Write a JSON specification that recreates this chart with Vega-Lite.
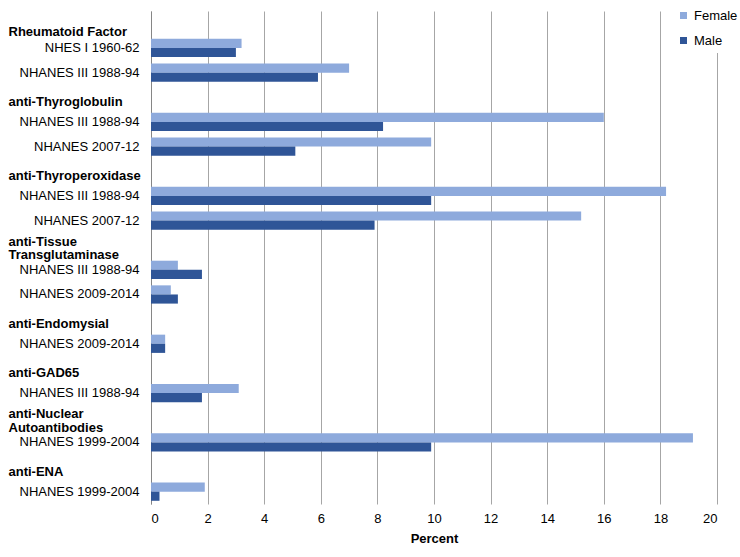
{
  "$schema": "https://vega.github.io/schema/vega-lite/v6.json",
  "width": 566,
  "height": 493,
  "autosize": {"type": "none"},
  "padding": {"left": 151, "top": 11, "right": 23, "bottom": 53},
  "background": "white",
  "config": {
    "font": "Liberation Sans",
    "view": {"stroke": null}
  },
  "data": {
    "values": [
      {"category": "RF|NHES I 1960-62", "sex": "Female", "percent": 3.2},
      {"category": "RF|NHES I 1960-62", "sex": "Male", "percent": 3.0},
      {"category": "RF|NHANES III 1988-94", "sex": "Female", "percent": 7.0},
      {"category": "RF|NHANES III 1988-94", "sex": "Male", "percent": 5.9},
      {"category": "TG|NHANES III 1988-94", "sex": "Female", "percent": 16.0},
      {"category": "TG|NHANES III 1988-94", "sex": "Male", "percent": 8.2},
      {"category": "TG|NHANES 2007-12", "sex": "Female", "percent": 9.9},
      {"category": "TG|NHANES 2007-12", "sex": "Male", "percent": 5.1},
      {"category": "TPO|NHANES III 1988-94", "sex": "Female", "percent": 18.2},
      {"category": "TPO|NHANES III 1988-94", "sex": "Male", "percent": 9.9},
      {"category": "TPO|NHANES 2007-12", "sex": "Female", "percent": 15.2},
      {"category": "TPO|NHANES 2007-12", "sex": "Male", "percent": 7.9},
      {"category": "TTG|NHANES III 1988-94", "sex": "Female", "percent": 0.95},
      {"category": "TTG|NHANES III 1988-94", "sex": "Male", "percent": 1.8},
      {"category": "TTG|NHANES 2009-2014", "sex": "Female", "percent": 0.7},
      {"category": "TTG|NHANES 2009-2014", "sex": "Male", "percent": 0.95},
      {"category": "EMA|NHANES 2009-2014", "sex": "Female", "percent": 0.5},
      {"category": "EMA|NHANES 2009-2014", "sex": "Male", "percent": 0.5},
      {"category": "GAD|NHANES III 1988-94", "sex": "Female", "percent": 3.1},
      {"category": "GAD|NHANES III 1988-94", "sex": "Male", "percent": 1.8},
      {"category": "ANA|NHANES 1999-2004", "sex": "Female", "percent": 19.15},
      {"category": "ANA|NHANES 1999-2004", "sex": "Male", "percent": 9.9},
      {"category": "ENA|NHANES 1999-2004", "sex": "Female", "percent": 1.9},
      {"category": "ENA|NHANES 1999-2004", "sex": "Male", "percent": 0.3}
    ]
  },
  "mark": {"type": "bar"},
  "encoding": {
    "y": {
      "field": "category",
      "type": "nominal",
      "scale": {
        "domain": [
          "Rheumatoid Factor",
          "RF|NHES I 1960-62",
          "RF|NHANES III 1988-94",
          "anti-Thyroglobulin",
          "TG|NHANES III 1988-94",
          "TG|NHANES 2007-12",
          "anti-Thyroperoxidase",
          "TPO|NHANES III 1988-94",
          "TPO|NHANES 2007-12",
          "anti-Tissue~Transglutaminase",
          "TTG|NHANES III 1988-94",
          "TTG|NHANES 2009-2014",
          "anti-Endomysial",
          "EMA|NHANES 2009-2014",
          "anti-GAD65",
          "GAD|NHANES III 1988-94",
          "anti-Nuclear~Autoantibodies",
          "ANA|NHANES 1999-2004",
          "anti-ENA",
          "ENA|NHANES 1999-2004"
        ],
        "paddingInner": 0.26,
        "paddingOuter": 0.13
      },
      "axis": {
        "title": null,
        "ticks": false,
        "grid": false,
        "domain": true,
        "domainColor": "#868686",
        "domainWidth": 1,
        "labelFont": "Liberation Sans",
        "labelFontSize": 13,
        "labelColor": "#000000",
        "labelLimit": 0,
        "labelLineHeight": 13.5,
        "labelBaseline": "middle",
        "labelExpr": "indexof(datum.value, '|') >= 0 ? split(datum.value, '|')[1] : split(datum.value, '~')",
        "labelAlign": {"condition": {"test": "indexof(datum.value, '|') < 0", "value": "left"}, "value": "right"},
        "labelPadding": {"condition": {"test": "indexof(datum.value, '|') < 0", "value": 143}, "value": 12},
        "labelFontWeight": {"condition": {"test": "indexof(datum.value, '|') < 0", "value": "bold"}, "value": "normal"},
        "labelOffset": {
          "condition": [
            {"test": "datum.value == 'Rheumatoid Factor'", "value": 9},
            {"test": "indexof(datum.value, '~') >= 0", "value": -3.5},
            {"test": "indexof(datum.value, '|') < 0", "value": 5}
          ],
          "value": 0
        }
      }
    },
    "yOffset": {
      "field": "sex",
      "type": "nominal",
      "scale": {"domain": ["Female", "Male"], "paddingInner": 0, "paddingOuter": 0}
    },
    "x": {
      "field": "percent",
      "type": "quantitative",
      "scale": {"domain": [0, 20], "nice": false},
      "axis": {
        "title": "Percent",
        "titleFont": "Liberation Sans",
        "titleFontSize": 13,
        "titleFontWeight": "bold",
        "titleColor": "#000000",
        "titlePadding": 7,
        "values": [0, 2, 4, 6, 8, 10, 12, 14, 16, 18, 20],
        "domain": false,
        "ticks": false,
        "grid": true,
        "gridColor": "#a6a6a6",
        "gridWidth": 1,
        "labelFont": "Liberation Sans",
        "labelFontSize": 13,
        "labelColor": "#000000",
        "labelPadding": 8
      }
    },
    "color": {
      "field": "sex",
      "type": "nominal",
      "scale": {"domain": ["Female", "Male"], "range": ["#8eaadc", "#2f5597"]},
      "legend": {
        "title": null,
        "orient": "none",
        "legendX": 521,
        "legendY": -7,
        "padding": 5,
        "fillColor": "white",
        "symbolType": "square",
        "symbolSize": 49,
        "symbolStrokeWidth": 0,
        "labelFont": "Liberation Sans",
        "labelFontSize": 13,
        "labelColor": "#000000",
        "labelOffset": 4,
        "rowPadding": 11
      }
    }
  }
}
